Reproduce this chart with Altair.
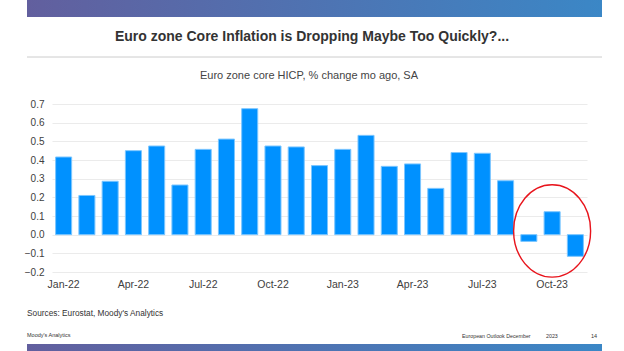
import altair as alt
import pandas as pd

months = ["Jan-22","Feb-22","Mar-22","Apr-22","May-22","Jun-22","Jul-22","Aug-22","Sep-22","Oct-22","Nov-22","Dec-22",
          "Jan-23","Feb-23","Mar-23","Apr-23","May-23","Jun-23","Jul-23","Aug-23","Sep-23","Oct-23","Nov-23"]
values = [0.416, 0.21, 0.286, 0.45, 0.475, 0.266, 0.457, 0.512, 0.675, 0.475, 0.47, 0.37,
          0.457, 0.532, 0.366, 0.379, 0.248, 0.44, 0.436, 0.289, -0.036, 0.123, -0.116]
tick_months = ["Jan-22","Apr-22","Jul-22","Oct-22","Jan-23","Apr-23","Jul-23","Oct-23"]
y_ticks = [-0.2, -0.1, 0.0, 0.1, 0.2, 0.3, 0.4, 0.5, 0.6, 0.7]

df = pd.DataFrame({"month": months, "value": values})
FONT = "Liberation Sans"
OX, OY = 52, 104  # plot origin in page

xscale = alt.Scale(domain=months, paddingInner=0.31, paddingOuter=0.155)
yscale = alt.Scale(domain=[-0.2, 0.7], nice=False, zero=False)

xaxis = alt.Axis(values=tick_months, title=None, labelAngle=0, ticks=False, domain=False,
                 labelPadding=7, labelFontSize=10.5, labelColor="#404040", labelFont=FONT,
                 labelOverlap=False, grid=False)
yaxis = alt.Axis(values=y_ticks, tickCount=10, format=".1f", title=None, ticks=False, domain=False,
                 labelPadding=8, labelFontSize=10, labelColor="#404040", labelFont=FONT,
                 labelOverlap=False, labelFlush=False,
                 gridColor="#ebebeb", gridWidth=1)

bars = alt.Chart(df).mark_bar(color="#0091ff", stroke="#7cc6ff", strokeWidth=1).encode(
    x=alt.X("month:N", scale=xscale, sort=months, axis=xaxis),
    y=alt.Y("value:Q", scale=yscale, axis=yaxis),
)

one = pd.DataFrame({"a": [0]})

# red ellipse around last three months
ell = alt.Chart(pd.DataFrame({"month": ["Oct-23"], "value": [0.02]})).mark_point(
    shape="M -1 0 A 1 1.2 0 1 1 1 0 A 1 1.2 0 1 1 -1 0",
    size=5929, filled=False, stroke="#e8141c", strokeWidth=1.4, opacity=1
).encode(x=alt.X("month:N", scale=xscale, sort=months, axis=xaxis),
         y=alt.Y("value:Q", scale=yscale, axis=yaxis))

banner_grad = alt.Gradient(gradient="linear", x1=0, x2=1, y1=0, y2=0,
                           stops=[alt.GradientStop(color="#625f9e", offset=0),
                                  alt.GradientStop(color="#3b87c6", offset=1)])

top_banner = alt.Chart(one).mark_rect(color=banner_grad).encode(
    x=alt.value(27 - OX), x2=alt.value(602 - OX), y=alt.value(0 - OY), y2=alt.value(17 - OY))
bottom_banner = alt.Chart(one).mark_rect(color=banner_grad).encode(
    x=alt.value(27 - OX), x2=alt.value(602 - OX), y=alt.value(344 - OY), y2=alt.value(351 - OY))
sep_line = alt.Chart(one).mark_rule(color="#cccccc", strokeWidth=1).encode(
    x=alt.value(27 - OX), x2=alt.value(602 - OX), y=alt.value(57 - OY))

def txt(text, x, y, size, align="left", bold=False, color="#333333"):
    return alt.Chart(pd.DataFrame({"t": [text]})).mark_text(
        font=FONT, fontSize=size, align=align, baseline="middle",
        fontWeight="bold" if bold else "normal", color=color
    ).encode(x=alt.value(x - OX), y=alt.value(y - OY), text="t:N")

title = txt("Euro zone Core Inflation is Dropping Maybe Too Quickly?...", 312, 37, 14, "center", True, "#333333")
subtitle = txt("Euro zone core HICP, % change mo ago, SA", 309, 76, 11, "center", False, "#444444")
sources = txt("Sources: Eurostat, Moody's Analytics", 27, 314, 8.3, "left", False, "#333333")
f1 = txt("Moody's Analytics", 27, 335, 5.5, "left", False, "#333333")
f2 = txt("European Outlook December", 462, 336, 5.3, "left", False, "#333333")
f3 = txt("2023", 546, 336, 5.3, "left", False, "#333333")
f4 = txt("14", 597, 336, 5.5, "right", False, "#333333")

chart = alt.layer(bars, ell, top_banner, bottom_banner, sep_line, title, subtitle, sources, f1, f2, f3, f4).properties(
    width=535, height=168,
    padding={"left": OX, "top": OY, "right": 624 - OX - 535, "bottom": 351 - OY - 168},
    autosize=alt.AutoSizeParams(type="none"),
    background="white",
).configure_view(stroke=None)

chart.save("out.html", embed_options={"renderer": "svg", "actions": False})
